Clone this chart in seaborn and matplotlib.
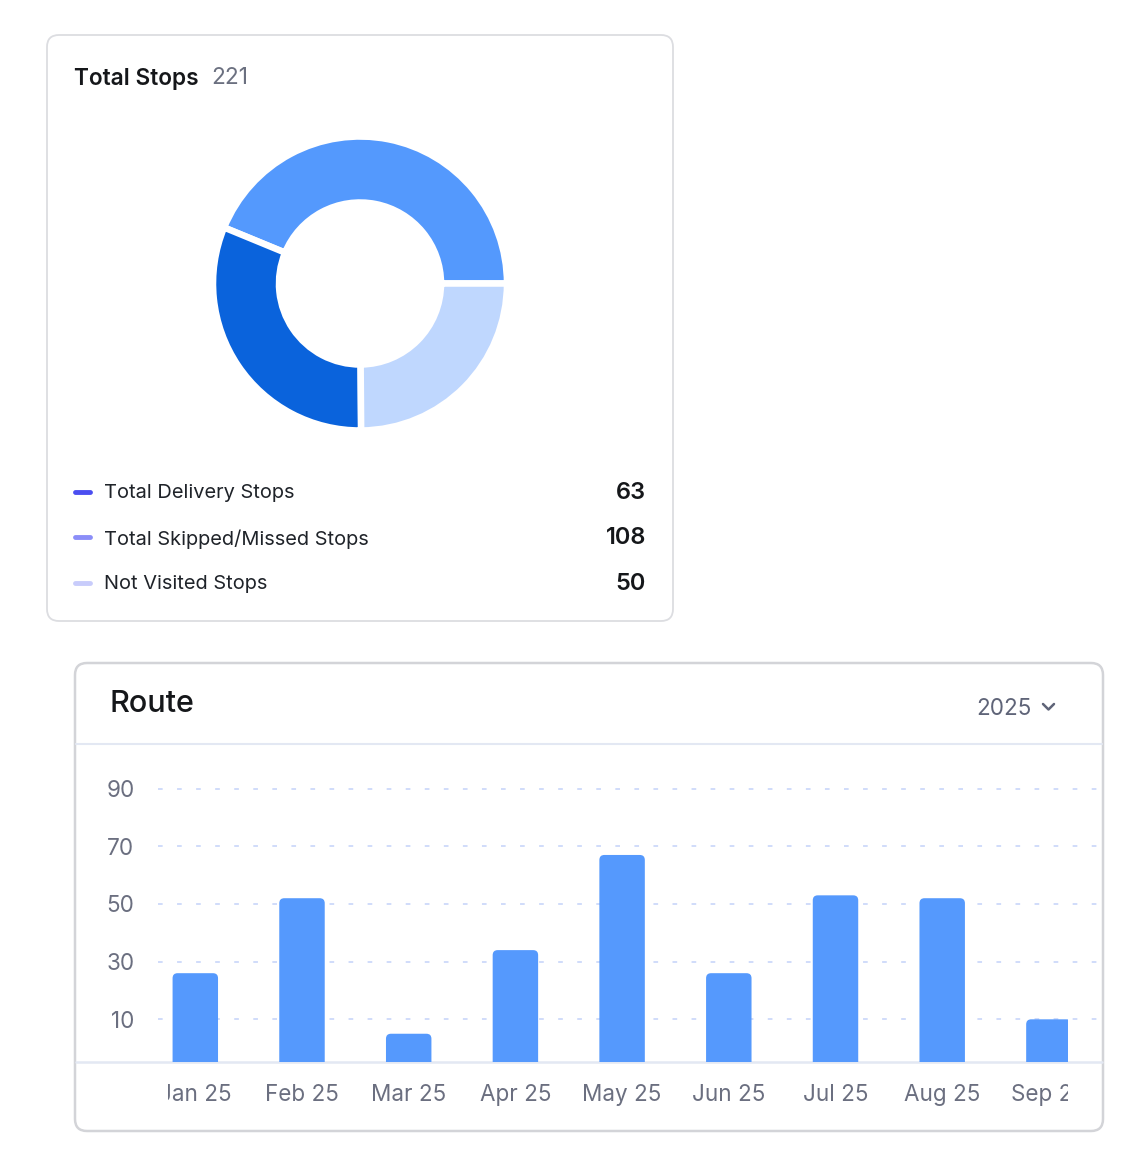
import pandas as pd
import matplotlib
matplotlib.use("Agg")
import matplotlib.pyplot as plt
import seaborn as sns
from matplotlib.patches import FancyBboxPatch
from matplotlib.transforms import Bbox, TransformedBbox

# --- data ---
stop_labels = ["Total Delivery Stops", "Total Skipped/Missed Stops", "Not Visited Stops"]
stop_values = [63, 108, 50]
stop_total = 221
legend_colors = ["#4b4ef0", "#8b8ef8", "#c8ccfb"]

# donut as drawn (counter-clockwise from 3 o'clock)
donut_values = [88, 63, 50]
donut_colors = ["#5499fd", "#0a63dc", "#bfd7fe"]

months = ["Jan 25", "Feb 25", "Mar 25", "Apr 25", "May 25", "Jun 25", "Jul 25", "Aug 25", "Sep 25"]
routes = [26, 52, 5, 34, 67, 26, 53, 52, 10]
y_ticks = [10, 30, 50, 70, 90]
year = "2025"

W, H = 1141, 1162
sns.set_theme(style="white")
plt.rcParams["font.family"] = ["Inter", "DejaVu Sans"]

fig = plt.figure(figsize=(W / 100, H / 100), dpi=100)
fig.patch.set_facecolor("white")

# background layer in pixel coords
bg = fig.add_axes([0, 0, 1, 1], zorder=0)
bg.set_xlim(0, W)
bg.set_ylim(H, 0)
bg.axis("off")

bg.add_patch(FancyBboxPatch((47, 35), 626, 586, boxstyle="round,pad=0,rounding_size=12",
                            fc="white", ec="#dcdde1", lw=1.3))
bg.add_patch(FancyBboxPatch((75, 663), 1028, 468, boxstyle="round,pad=0,rounding_size=12",
                            fc="white", ec="#d3d4d8", lw=1.8))

# card 1 header
bg.text(74, 78.5, "Total Stops", fontsize=16.3, fontweight="semibold", color="#15171a", va="center")
bg.text(211, 78.5, str(stop_total), fontsize=16.3, color="#6b7080", va="center")

# legend rows
for i, (lab, val, col) in enumerate(zip(stop_labels, stop_values, legend_colors)):
    y = 492 + i * 45.3
    bg.plot([75, 90], [y, y], color=col, lw=3.5, solid_capstyle="round")
    bg.text(104, y + 1.5, lab, fontsize=14.4, color="#1f2329", va="center")
    bg.text(646, y + 1, str(val), fontsize=17, fontweight="semibold", color="#15171a",
            va="center", ha="right")

# card 2 header
bg.text(109, 704, "Route", fontsize=22, fontweight="medium", color="#15171a", va="center")
bg.text(976, 709, year, fontsize=16.2, color="#5f6478", va="center")
bg.plot([1043, 1048.5, 1054], [704, 709.5, 704], color="#5f6478", lw=1.8,
        solid_capstyle="round", solid_joinstyle="round")
bg.plot([76, 1102], [744, 744], color="#e3e8f3", lw=1.5)
bg.plot([76, 1102], [1062, 1062], color="#e3e8f3", lw=1.8)

# donut
cx, cy, half = 360, 283.5, 150
axd = fig.add_axes([(cx - half) / W, 1 - (cy + half) / H, 2 * half / W, 2 * half / H], zorder=2)
axd.pie(donut_values, colors=donut_colors, startangle=0, counterclock=True, radius=0.98,
        wedgeprops=dict(width=0.44, edgecolor="white", linewidth=4.7))
axd.set_xlim(-1, 1)
axd.set_ylim(-1, 1)
axd.set_aspect("equal")
axd.axis("off")

# bar chart
ax_l, ax_r, ax_t, ax_b = 158, 1102, 750, 1062
ax = fig.add_axes([ax_l / W, 1 - ax_b / H, (ax_r - ax_l) / W, (ax_b - ax_t) / H], zorder=2)
ax.patch.set_alpha(0)
df = pd.DataFrame({"month": months, "routes": routes})
bar_color = "#5599fd"
sns.barplot(data=df, x="month", y="routes", color=bar_color, saturation=1, width=0.426, ax=ax)

step = 106.7
first_c = 195.3
ax.set_xlim(-(first_c - ax_l) / step, (ax_r - first_c) / step)
y_floor = -4.8
ax.set_ylim(y_floor, 103.4)
ax.set_yticks(y_ticks)
ax.set_xlabel("")
ax.set_ylabel("")
ax.set_axisbelow(True)
ax.yaxis.grid(True, color="#d0dcfa", linestyle=(0, (2.4, 7.4)), linewidth=1.4)
ax.xaxis.grid(False)
sns.despine(ax=ax, left=True, bottom=True)
ax.tick_params(axis="y", length=0, pad=17, labelsize=16.2, labelcolor="#6b6f80")
ax.tick_params(axis="x", length=0, pad=16, labelsize=16.2, labelcolor="#6b6f80")

# clip region of the scrolling plot area
clip_x0, clip_x1 = 168, 1068
bar_clip = TransformedBbox(Bbox.from_extents(clip_x0 / W, 1 - ax_b / H, clip_x1 / W, 1 - ax_t / H),
                           fig.transFigure)
lab_clip = TransformedBbox(Bbox.from_extents(clip_x0 / W, 0, clip_x1 / W, 1), fig.transFigure)

# bars start at the axis floor, rounded tops
p0, p1 = ax.transData.transform([(0, 0), (1, 1)])
px_x, px_y = p1[0] - p0[0], p1[1] - p0[1]
r = 5 / px_x
asp = px_x / px_y
for p in list(ax.patches):
    x0, w, top = p.get_x(), p.get_width(), p.get_height()
    base = y_floor - 10
    fb = FancyBboxPatch((x0, base), w, top - base, boxstyle=f"round,pad=0,rounding_size={r}",
                        mutation_aspect=asp, fc=bar_color, ec="none", zorder=2)
    ax.add_patch(fb)
    fb.set_clip_box(bar_clip)
    p.remove()

for lab in ax.get_xticklabels():
    lab.set_clip_box(lab_clip)
    lab.set_clip_on(True)

fig.savefig("out.png", dpi=100, facecolor="white")
